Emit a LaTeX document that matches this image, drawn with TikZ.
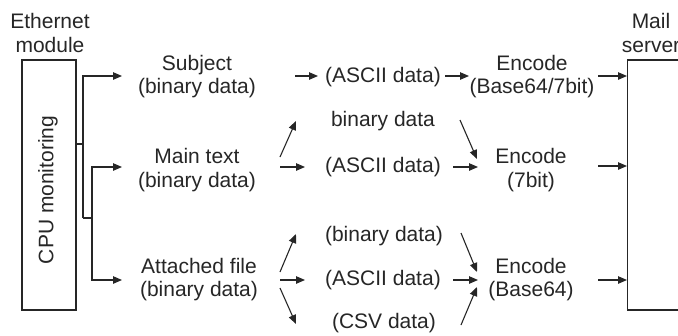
\documentclass[tikz,border=0pt]{standalone}
\usepackage{fontspec}
\setmainfont{Liberation Sans}
\usetikzlibrary{arrows.meta}
\begin{document}
\begin{tikzpicture}[x=1pt,y=-1pt,
  lbl/.style={inner sep=0pt, align=center, font=\fontsize{21}{23.5}\selectfont, text=black!85},
  arr/.style={-{Triangle[length=9pt,width=7.5pt]}, line width=1.1pt, draw=black!85},
  ln/.style={line width=1.1pt, draw=black!85}]
\useasboundingbox (0,0) rectangle (678,335);
\clip (0,0) rectangle (678,335);
% boxes
\node[ln, draw, minimum width=54pt, minimum height=250pt, inner sep=0pt] (cpu) at (49,185) {};
\node[lbl, rotate=90] (cpul) at (48,190) {CPU monitoring};
\node[ln, draw, minimum width=80pt, minimum height=250pt, inner sep=0pt, anchor=west] (srv) at (627,185) {};
\node[lbl] (eth) at (50,33) {Ethernet\\module};
\node[lbl] (mail) at (651,33) {Mail\\server};
% left column
\node[lbl] (subj) at (197,76.5) {Subject\\(binary data)};
\node[lbl] (main) at (197,170) {Main text\\(binary data)};
\node[lbl] (att) at (199,279.5) {Attached file\\(binary data)};
% middle column
\node[lbl] (a1) at (383,77) {(ASCII data)};
\node[lbl] (b2) at (383,121) {binary data};
\node[lbl] (a2) at (383,167) {(ASCII data)};
\node[lbl] (b3) at (384,236) {(binary data)};
\node[lbl] (a3) at (383,280) {(ASCII data)};
\node[lbl] (c3) at (384,323) {(CSV data)};
% encode column
\node[lbl] (e1) at (532,76.5) {Encode\\(Base64/7bit)};
\node[lbl] (e2) at (531,170) {Encode\\(7bit)};
\node[lbl] (e3) at (531,279.5) {Encode\\(Base64)};
% branch coordinates
\coordinate (j0) at (83,144);
\coordinate (j1) at (83,76);
\coordinate (j2) at (83,218);
\coordinate (k0) at (92,218);
\coordinate (k1) at (92,167);
\coordinate (k2) at (92,280);
\coordinate (s1) at (122,76);
\coordinate (s2) at (122,167);
\coordinate (s3) at (122,280);
\draw[ln] (cpu.east |- j0) -- (j0);
\draw[arr] (j2) -- (j1) -- (s1);
\draw[ln] (j2) -- (k0);
\draw[arr] (k0) -- (k1) -- (s2);
\draw[arr] (k0) -- (k2) -- (s3);
% row 1
\coordinate (r1a) at (295,76);  \coordinate (r1b) at (318,76);
\coordinate (r1c) at (445,76);  \coordinate (r1d) at (469,76);
\coordinate (r1e) at (598,76);
\draw[arr] (r1a) -- (r1b);
\draw[arr] (r1c) -- (r1d);
\draw[arr] (r1e) -- (srv.west |- r1e);
% row 2
\coordinate (r2a) at (280,157); \coordinate (r2b) at (296,121);
\coordinate (r2c) at (280,167); \coordinate (r2d) at (305,167);
\coordinate (r2e) at (460,120); \coordinate (r2f) at (477,159);
\coordinate (r2g) at (453,167); \coordinate (r2h) at (478,167);
\coordinate (r2i) at (598,166);
\draw[arr] (r2a) -- (r2b);
\draw[arr] (r2c) -- (r2d);
\draw[arr] (r2e) -- (r2f);
\draw[arr] (r2g) -- (r2h);
\draw[arr] (r2i) -- (srv.west |- r2i);
% row 3
\coordinate (r3a) at (280,272); \coordinate (r3b) at (296,234);
\coordinate (r3c) at (280,280); \coordinate (r3d) at (305,280);
\coordinate (r3e) at (280,288); \coordinate (r3f) at (296,324);
\coordinate (r3g) at (461,233); \coordinate (r3h) at (477,272);
\coordinate (r3i) at (453,280); \coordinate (r3j) at (478,280);
\coordinate (r3k) at (461,325); \coordinate (r3l) at (477,287);
\coordinate (r3m) at (598,280);
\draw[arr] (r3a) -- (r3b);
\draw[arr] (r3c) -- (r3d);
\draw[arr] (r3e) -- (r3f);
\draw[arr] (r3g) -- (r3h);
\draw[arr] (r3i) -- (r3j);
\draw[arr] (r3k) -- (r3l);
\draw[arr] (r3m) -- (srv.west |- r3m);
\end{tikzpicture}
\end{document}
